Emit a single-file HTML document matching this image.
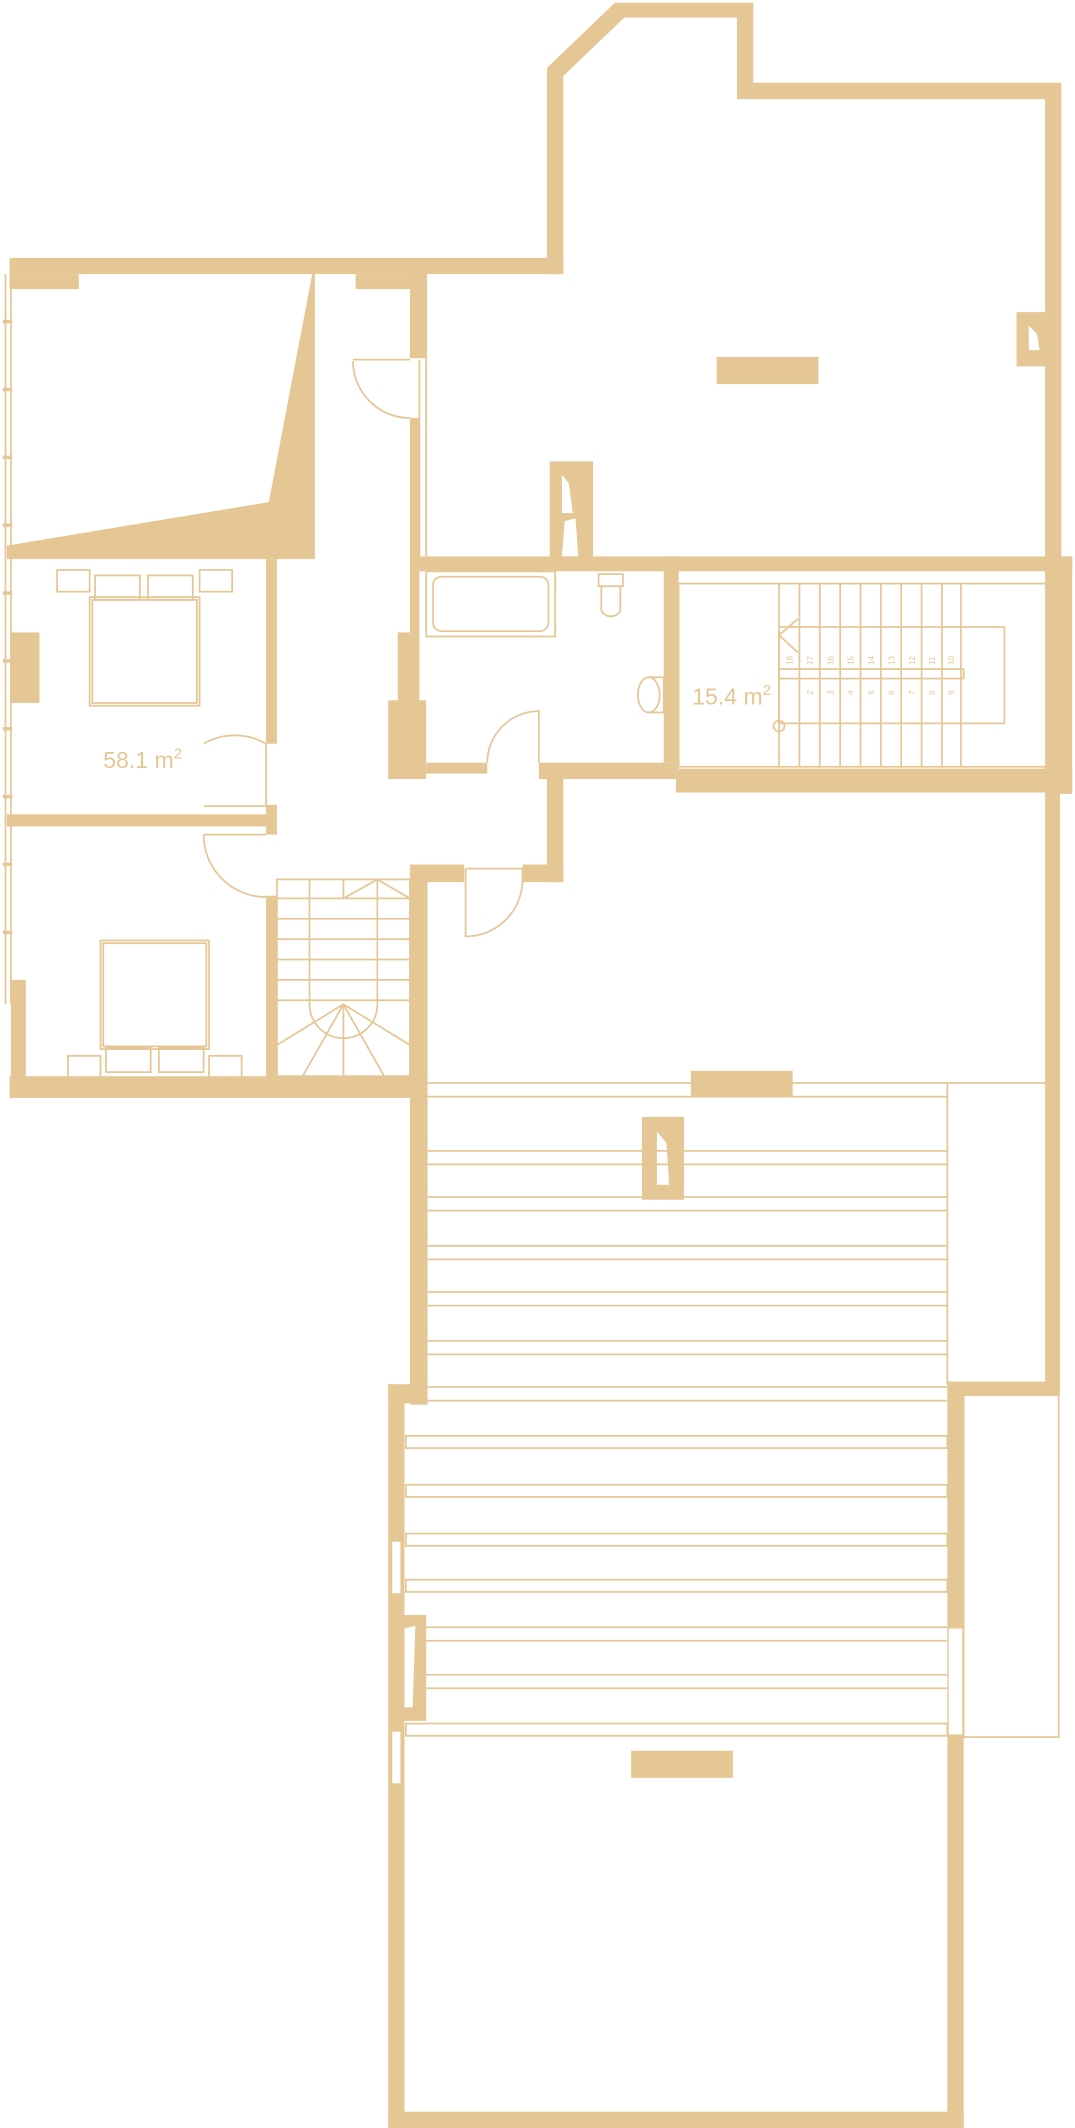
<!DOCTYPE html>
<html><head><meta charset="utf-8"><style>
html,body{margin:0;padding:0;background:#fff;}
svg{display:block;}
</style></head><body>
<svg width="1075" height="2128" viewBox="0 0 792 1568" xmlns="http://www.w3.org/2000/svg">
<g fill="#e5c796" stroke="none">
<path d="M403,190 L403,50 L453,2 L555,2 L555,61 L782,61 L782,412 L770,412 L770,73 L543,73 L543,13 L460,13 L415,56 L415,202 L403,202 Z"/>
<rect x="7" y="190" width="408" height="12"/>
<rect x="7" y="202" width="51" height="11"/>
<rect x="262" y="202" width="50" height="11"/>
<polygon points="5,402 198,370 230,202 232,202 232,412 5,412"/>
<rect x="302" y="202" width="12" height="62"/>
<rect x="302" y="308" width="7" height="254"/>
<rect x="293" y="466" width="11" height="96"/>
<rect x="286" y="516" width="28" height="58"/>
<rect x="196" y="412" width="8" height="136"/>
<rect x="196" y="593" width="8" height="22"/>
<rect x="196" y="660" width="8" height="134"/>
<rect x="5" y="600" width="191" height="9"/>
<rect x="8" y="466" width="21" height="52"/>
<rect x="8" y="722" width="11" height="86"/>
<rect x="7" y="793" width="307" height="16"/>
<rect x="304" y="410" width="486" height="11"/>
<rect x="770" y="410" width="20" height="175"/>
<rect x="489" y="410" width="11" height="152"/>
<rect x="314" y="562" width="45" height="8"/>
<rect x="397" y="562" width="103" height="12"/>
<rect x="498" y="567" width="292" height="17"/>
<rect x="403" y="570" width="12" height="80"/>
<rect x="302" y="637" width="40" height="13"/>
<rect x="385" y="637" width="30" height="13"/>
<rect x="302" y="640" width="13" height="395"/>
<path d="M405,340 L437,340 L437,412 L405,412 Z M414,350 L414,378 L422,378 L419,356 Z M416,384 L414,410 L426,410 L424,382 Z" fill-rule="evenodd"/>
<rect x="528" y="263" width="75" height="20"/>
<path d="M749,230 L770,230 L770,270 L749,270 Z M758,240 L758,258 L766,258 L764,246 Z" fill-rule="evenodd"/>
<rect x="770" y="584" width="11" height="444"/>
<rect x="698" y="1018" width="82" height="10"/>
<rect x="698" y="1018" width="12" height="550"/>
<rect x="286" y="1020" width="28" height="14"/>
<rect x="286" y="1020" width="12" height="548"/>
<rect x="286" y="1556" width="424" height="12"/>
<rect x="509" y="789" width="75" height="19"/>
<path d="M473,823 L504,823 L504,884 L473,884 Z M484,834 L484,873 L493,873 L491,842 Z" fill-rule="evenodd"/>
<path d="M294,1190 L314,1190 L314,1268 L294,1268 Z M298,1200 L296,1258 L304,1258 L306,1198 Z" fill-rule="evenodd"/>
<rect x="465" y="1290" width="75" height="20"/>
</g>
<g fill="#fff" stroke="none">
<rect x="289" y="1136" width="6" height="38"/>
<rect x="289" y="1276" width="6" height="38"/>
<rect x="699" y="1200" width="10" height="78"/>
</g>
<g fill="none" stroke="#e5c796" stroke-width="1.3">
<line x1="4" y1="202" x2="4" y2="740"/><line x1="8" y1="202" x2="8" y2="740"/>
<g stroke-width="2.5"><line x1="2" y1="237" x2="9" y2="237"/><line x1="2" y1="287" x2="9" y2="287"/><line x1="2" y1="337" x2="9" y2="337"/><line x1="2" y1="387" x2="9" y2="387"/><line x1="2" y1="437" x2="9" y2="437"/><line x1="2" y1="487" x2="9" y2="487"/><line x1="2" y1="537" x2="9" y2="537"/><line x1="2" y1="587" x2="9" y2="587"/><line x1="2" y1="637" x2="9" y2="637"/><line x1="2" y1="687" x2="9" y2="687"/></g>
<line x1="309" y1="265" x2="309" y2="410"/><line x1="314" y1="202" x2="314" y2="410"/>
<path d="M260,265 L302,265 M302,308 A42,42 0 0 1 260,266"/>
<path d="M150,548 A46,46 0 0 1 196,548 M150,594 L196,594 L196,548" />
<path d="M150,615 L196,615 M150,615 A46,46 0 0 0 196,661"/>
<path d="M359,562 A38,38 0 0 1 397,524 L397,562"/>
<path d="M343,640 L343,690 A42,42 0 0 0 385,648 M343,640 L385,640 L385,648"/>
<rect x="66" y="440" width="81" height="80"/><rect x="68" y="442" width="77" height="76"/>
<rect x="70" y="424" width="33" height="18"/><rect x="109" y="424" width="33" height="18"/>
<rect x="42" y="420" width="24" height="16"/><rect x="147" y="420" width="24" height="16"/>
<rect x="74" y="693" width="80" height="80"/><rect x="76" y="695" width="76" height="76"/>
<rect x="78" y="772" width="33" height="18"/><rect x="117" y="772" width="33" height="18"/>
<rect x="50" y="778" width="24" height="16"/><rect x="154" y="778" width="24" height="16"/>
<rect x="204" y="648" width="98" height="145"/>
<line x1="204" y1="662" x2="302" y2="662"/><line x1="204" y1="677" x2="302" y2="677"/><line x1="204" y1="692" x2="302" y2="692"/><line x1="204" y1="707" x2="302" y2="707"/><line x1="204" y1="722" x2="302" y2="722"/><line x1="204" y1="737" x2="302" y2="737"/>
<line x1="228" y1="648" x2="228" y2="740"/><line x1="278" y1="648" x2="278" y2="740"/><line x1="253" y1="648" x2="253" y2="662"/>
<path d="M228,740 A25,25 0 0 0 278,740"/>
<path d="M253,740 L204,770 M253,740 L223,793 M253,740 L253,793 M253,740 L283,793 M253,740 L302,770 M253,662 L278,648 L302,662"/>
<rect x="314" y="421" width="95" height="48"/><rect x="319" y="425" width="85" height="40" rx="6"/>
<path d="M441,423 L459,423 L459,432 L441,432 Z M443,432 L443,450 A8,8 0 0 0 457,450 L457,432"/>
<ellipse cx="478" cy="512" rx="8" ry="13"/><path d="M478,499 L489,499 L489,525 L478,525"/>
<rect x="498" y="420" width="276" height="147"/><rect x="500" y="430" width="272" height="135"/>
<rect x="574" y="462" width="166" height="71"/>
<rect x="574" y="493" width="136" height="7"/>
<g>
<line x1="574" y1="430" x2="574" y2="565"/><line x1="589" y1="430" x2="589" y2="565"/><line x1="604" y1="430" x2="604" y2="565"/><line x1="619" y1="430" x2="619" y2="565"/><line x1="634" y1="430" x2="634" y2="565"/><line x1="649" y1="430" x2="649" y2="565"/><line x1="664" y1="430" x2="664" y2="565"/><line x1="679" y1="430" x2="679" y2="565"/><line x1="694" y1="430" x2="694" y2="565"/><line x1="708" y1="430" x2="708" y2="565"/>
</g>
<path d="M588,456 L574,468 L588,481"/>
<circle cx="574" cy="535" r="4"/>
<line x1="314" y1="798" x2="770" y2="798"/><line x1="314" y1="808" x2="698" y2="808"/>
<line x1="698" y1="798" x2="698" y2="1020"/>
<line x1="314" y1="848" x2="698" y2="848"/><line x1="314" y1="858" x2="698" y2="858"/>
<line x1="314" y1="882" x2="698" y2="882"/><line x1="314" y1="892" x2="698" y2="892"/>
<line x1="314" y1="918" x2="698" y2="918"/><line x1="314" y1="928" x2="698" y2="928"/>
<line x1="314" y1="952" x2="698" y2="952"/><line x1="314" y1="962" x2="698" y2="962"/>
<line x1="314" y1="988" x2="698" y2="988"/><line x1="314" y1="998" x2="698" y2="998"/>
<line x1="314" y1="1022" x2="698" y2="1022"/><line x1="314" y1="1032" x2="698" y2="1032"/>
<rect x="299" y="1058" width="399" height="9"/><rect x="299" y="1094" width="399" height="9"/>
<rect x="299" y="1130" width="399" height="9"/><rect x="299" y="1164" width="399" height="9"/>
<line x1="314" y1="1199" x2="698" y2="1199"/><line x1="314" y1="1209" x2="698" y2="1209"/>
<line x1="314" y1="1234" x2="698" y2="1234"/><line x1="314" y1="1244" x2="698" y2="1244"/>
<rect x="299" y="1270" width="399" height="9"/>
<rect x="710" y="1028" width="70" height="252"/>
</g>
<g fill="#e5c796" font-family="'Liberation Sans',sans-serif">
<text x="76" y="566" font-size="17">58.1 m<tspan font-size="11" dy="-7">2</tspan></text>
<text x="510" y="519" font-size="17">15.4 m<tspan font-size="11" dy="-7">2</tspan></text>
<g font-size="6">
<text x="584" y="490" transform="rotate(-90 584 490)">18</text>
<text x="599" y="490" transform="rotate(-90 599 490)">17</text>
<text x="614" y="490" transform="rotate(-90 614 490)">16</text>
<text x="629" y="490" transform="rotate(-90 629 490)">15</text>
<text x="644" y="490" transform="rotate(-90 644 490)">14</text>
<text x="659" y="490" transform="rotate(-90 659 490)">13</text>
<text x="674" y="490" transform="rotate(-90 674 490)">12</text>
<text x="689" y="490" transform="rotate(-90 689 490)">11</text>
<text x="703" y="490" transform="rotate(-90 703 490)">10</text>
<text x="599" y="512" transform="rotate(-90 599 512)">2</text>
<text x="614" y="512" transform="rotate(-90 614 512)">3</text>
<text x="629" y="512" transform="rotate(-90 629 512)">4</text>
<text x="644" y="512" transform="rotate(-90 644 512)">5</text>
<text x="659" y="512" transform="rotate(-90 659 512)">6</text>
<text x="674" y="512" transform="rotate(-90 674 512)">7</text>
<text x="689" y="512" transform="rotate(-90 689 512)">8</text>
<text x="703" y="512" transform="rotate(-90 703 512)">9</text>
</g>
</g>
</svg>
</body></html>
